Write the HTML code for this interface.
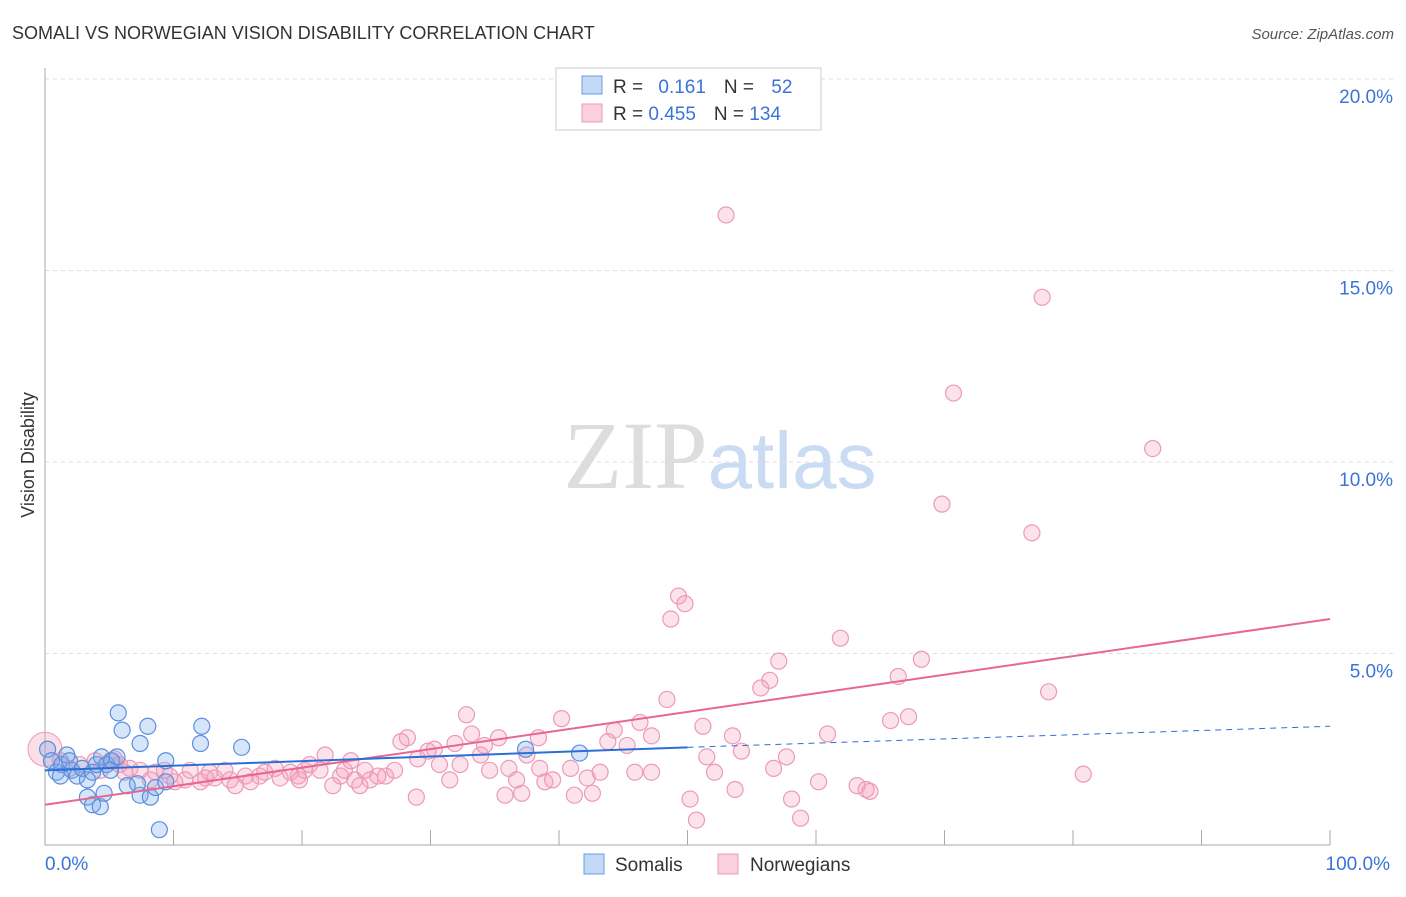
<!DOCTYPE html>
<html><head><meta charset="utf-8"><style>
body{margin:0;background:#fff;font-family:"Liberation Sans",sans-serif}
</style></head><body>
<svg id="c" width="1406" height="892" xmlns="http://www.w3.org/2000/svg" font-family="Liberation Sans, sans-serif">
<text x="12" y="39" font-size="18" fill="#333">SOMALI VS NORWEGIAN VISION DISABILITY CORRELATION CHART</text>
<text x="1394" y="39" font-size="15" fill="#555" text-anchor="end" font-style="italic">Source: ZipAtlas.com</text>
<text x="720" y="488" font-size="96" text-anchor="middle"><tspan fill="#ddd" font-family="Liberation Serif, serif">ZIP</tspan><tspan fill="#c9dcf3" font-size="80">atlas</tspan></text>
<text transform="translate(34,455) rotate(-90)" font-size="18" fill="#333" text-anchor="middle">Vision Disability</text>
<g id="grid"></g><g id="pts"></g><g id="lines"></g>
<g>
<rect x="556" y="68" width="265" height="62" fill="#fff" stroke="#ccc"/>
<rect x="582" y="76" width="20" height="18" fill="#c2d8f7" stroke="#6a9be0"/>
<rect x="582" y="104" width="20" height="18" fill="#fbd0dd" stroke="#ec9ab5"/>
<text x="613" y="93" font-size="19" fill="#333">R = <tspan fill="#3a74d8" dx="10">0.161</tspan><tspan dx="18" fill="#333">N = </tspan><tspan dx="12" fill="#3a74d8">52</tspan></text>
<text x="613" y="120" font-size="19" fill="#333">R = <tspan fill="#3a74d8">0.455</tspan><tspan dx="18" fill="#333">N = </tspan><tspan fill="#3a74d8">134</tspan></text>
</g>
<g>
<rect x="584" y="854" width="20" height="20" fill="#c2d8f7" stroke="#6a9be0"/>
<text x="615" y="871" font-size="19" fill="#333">Somalis</text>
<rect x="718" y="854" width="20" height="20" fill="#fbd0dd" stroke="#ec9ab5"/>
<text x="750" y="871" font-size="19" fill="#333">Norwegians</text>
</g>
</svg>
<script>
const yTicks=[5,10,15,20];
const yTickLabels=["5.0%","10.0%","15.0%","20.0%"];
const xTickLabels=["0.0%","100.0%"];
const blueX=[0.2,0.5,0.9,1.3,1.7,2.1,2.5,2.9,3.3,3.7,4.0,4.4,4.8,5.2,5.6,5.7,6.0,7.4,8.0,8.9,9.4,12.2,12.1,15.3,37.4,41.6,3.3,3.7,4.3,4.6,6.4,7.4,8.2,8.6,9.4,7.2,5.1,1.2,1.9];
const blueY=[2.5,2.2,1.9,2.1,2.35,1.95,1.8,2.0,1.7,1.9,2.1,2.3,2.1,2.2,2.3,3.45,3.0,2.65,3.1,0.4,2.2,3.1,2.65,2.55,2.5,2.4,1.25,1.05,1.0,1.35,1.55,1.3,1.25,1.5,1.65,1.6,1.95,1.8,2.2];
const pinkX=[53.0,77.6,70.7,86.2,69.8,76.8,49.3,49.8,48.7,61.9,57.1,68.2,56.4,55.7,66.4,78.1,48.4,67.2,65.8,32.8,40.2,44.3,46.3,51.2,53.5,60.9,47.2,28.2,33.2,35.3,27.7,30.3,29.8,31.9,34.2,38.4,43.8,45.3,54.2,51.5,57.7,21.8,23.8,37.5,29.0,32.3,34.6,36.1,38.5,40.9,42.2,43.2,45.9,47.2,52.1,56.7,80.8,60.2,63.2,63.9,64.2,53.7,50.2,58.1,58.8,50.7,31.5,36.7,38.9,39.5,41.2,42.6,35.8,37.1,28.9,22.4,24.1,25.3,26.5,27.2,24.9,23.0,20.2,19.1,17.9,16.7,15.6,14.4,13.2,12.1,10.9,9.7,8.6,7.4,6.6,5.8,5.1,3.9,2.7,1.9,1.2,4.3,8.2,10.1,11.3,12.8,14.0,16.0,17.1,18.3,19.7,20.6,21.4,23.3,24.5,25.9,30.7,33.9,19.8,14.8,12.5,9.3,6.2,5.4];
const pinkY=[16.45,14.3,11.8,10.35,8.9,8.15,6.5,6.3,5.9,5.4,4.8,4.85,4.3,4.1,4.4,4.0,3.8,3.35,3.25,3.4,3.3,3.0,3.2,3.1,2.85,2.9,2.85,2.8,2.9,2.8,2.7,2.5,2.45,2.65,2.6,2.8,2.7,2.6,2.45,2.3,2.3,2.35,2.2,2.35,2.25,2.1,1.95,2.0,2.0,2.0,1.75,1.9,1.9,1.9,1.9,2.0,1.85,1.65,1.55,1.45,1.4,1.45,1.2,1.2,0.7,0.65,1.7,1.7,1.65,1.7,1.3,1.35,1.3,1.35,1.25,1.55,1.7,1.7,1.8,1.95,1.95,1.8,1.95,1.9,2.0,1.8,1.8,1.7,1.75,1.65,1.7,1.8,1.9,1.95,2.0,2.1,2.2,2.2,2.1,2.0,2.2,1.95,1.7,1.65,1.95,1.9,1.95,1.65,1.9,1.75,1.8,2.1,1.95,1.95,1.55,1.8,2.1,2.35,1.7,1.55,1.75,1.95,1.9,2.25];
const blueTrend=[1.95,2.55,3.1];
const pinkTrend=[1.05,5.9];
const NS="http://www.w3.org/2000/svg";
const X=v=>45+v*12.85, Y=v=>845-v*38.3;
function mk(t,a,p){const e=document.createElementNS(NS,t);for(const k in a)e.setAttribute(k,a[k]);document.getElementById(p).appendChild(e);return e;}
const svg=document.getElementById('c');
yTicks.forEach((t,i)=>{
 const l=mk('line',{x1:45,x2:1393,y1:Y(t),y2:Y(t),stroke:'#ddd','stroke-dasharray':'4,4'},'grid');
 
 
 const tx=mk('text',{x:1393,y:Y(t)+24,'font-size':19,fill:'#3a74d8','text-anchor':'end'},'grid');
 tx.textContent=yTickLabels[i];
 
 
});
const ax=mk('path',{d:'M45,68V845H1330',stroke:'#aaa',fill:'none'},'grid');


for(let i=1;i<=10;i++){const t=mk('line',{x1:X(i*10),x2:X(i*10),y1:830,y2:845,stroke:'#aaa'},'grid');
 
 }
[[0,'start'],[100,'end']].forEach((p,i)=>{const t=mk('text',{x:X(p[0])+(i?60:0),y:870,'font-size':19,fill:'#3a74d8','text-anchor':p[1]},'grid');t.textContent=xTickLabels[i];
 
 });
const big=mk('circle',{cx:X(0),cy:Y(2.5),r:17,fill:'rgba(240,150,180,0.3)',stroke:'#ec9ab5'},'pts');


pinkX.forEach((x,i)=>{const c=mk('circle',{cx:X(x),cy:Y(pinkY[i]),r:8,fill:'rgba(244,160,188,0.3)',stroke:'#ec9ab5','stroke-width':1.2},'pts');
 
 });
blueX.forEach((x,i)=>{const c=mk('circle',{cx:X(x),cy:Y(blueY[i]),r:8,fill:'rgba(120,170,240,0.3)',stroke:'#5b8fdc','stroke-width':1.2},'pts');
 
 });
let l=mk('line',{x1:X(0),y1:Y(pinkTrend[0]),x2:X(100),y2:Y(pinkTrend[1]),stroke:'#e8678f','stroke-width':2},'lines');


l=mk('line',{x1:X(0),y1:Y(blueTrend[0]),x2:X(50),y2:Y(blueTrend[1]),stroke:'#2a6fd6','stroke-width':2},'lines');


l=mk('line',{x1:X(50),y1:Y(blueTrend[1]),x2:X(100),y2:Y(blueTrend[2]),stroke:'#2a6fd6','stroke-width':1,'stroke-dasharray':'6,5'},'lines');


</script>
</body></html>
